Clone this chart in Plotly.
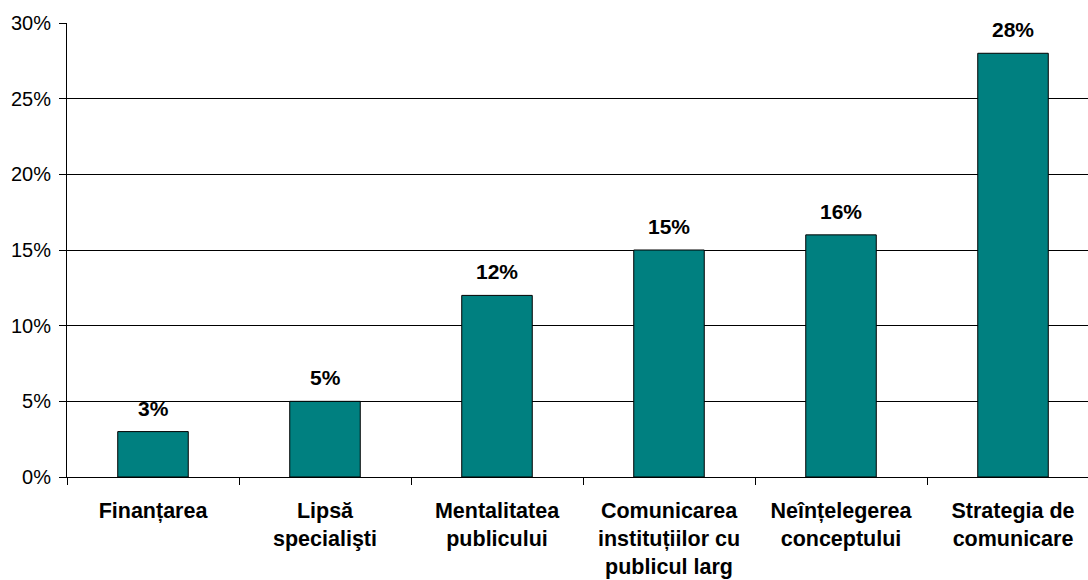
import plotly.graph_objects as go

categories = ["Finanțarea", "Lipsă<br>specialişti", "Mentalitatea<br>publicului",
              "Comunicarea<br>instituțiilor cu<br>publicul larg", "Neînțelegerea<br>conceptului",
              "Strategia de<br>comunicare"]
values = [3, 5, 12, 15, 16, 28]
labels = ["3%", "5%", "12%", "15%", "16%", "28%"]
y_ticks = [0, 5, 10, 15, 20, 25, 30]
y_ticktext = ["0%", "5%", "10%", "15%", "20%", "25%", "30%"]

FONT = "Liberation Sans, Arial"

fig = go.Figure()
fig.add_trace(go.Bar(
    x=categories, y=values, width=0.41,
    marker=dict(color="#008080", line=dict(color="#000000", width=1)),
    hoverinfo="skip",
))
for c, v, t in zip(categories, values, labels):
    fig.add_annotation(x=c, y=v, text="<b>" + t + "</b>", showarrow=False,
                       yanchor="bottom", yshift=10,
                       font=dict(family=FONT, size=21, color="#000000"))

fig.update_layout(
    width=1088, height=580,
    margin=dict(l=67, r=0, t=23, b=103, autoexpand=False),
    paper_bgcolor="white", plot_bgcolor="white",
    showlegend=False,
    font=dict(family=FONT, size=20, color="#000000"),
)
fig.update_xaxes(
    range=[-0.5, 5.436], tickson="boundaries", ticks="outside", ticklen=7,
    tickcolor="#000000", showline=True, linecolor="#000000", linewidth=1,
    showgrid=False, tickfont=dict(size=21.5, family=FONT),
    tickvals=categories, ticktext=["<b>" + c + "</b>" for c in categories],
    automargin=False, ticklabelstandoff=14,
)
fig.update_yaxes(
    range=[0, 30], tickvals=y_ticks, ticktext=y_ticktext, ticks="outside", ticklen=7,
    tickcolor="#000000", showline=True, linecolor="#000000", linewidth=1,
    showgrid=True, gridcolor="#000000", gridwidth=1, zeroline=False,
    tickfont=dict(size=20, family=FONT), automargin=False, ticklabelstandoff=4,
)
fig.write_html("out.html", config={"displayModeBar": False},
               post_script="document.body.style.margin='0';")
